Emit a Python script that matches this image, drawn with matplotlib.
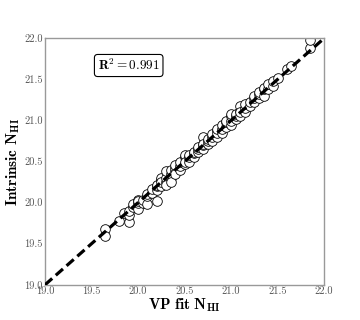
import numpy as np
import matplotlib
matplotlib.use('Agg')
import matplotlib.pyplot as plt

plt.rcParams['font.family'] = 'serif'
plt.rcParams['font.serif'] = ['cmr10']
plt.rcParams['mathtext.fontset'] = 'cm'
plt.rcParams['axes.formatter.use_mathtext'] = True

# (VP fit, intrinsic) pairs
vp_fit = [19.65, 19.65, 19.80, 19.85, 19.90, 19.90, 19.90, 19.95, 19.95,
          20.00, 20.00, 20.00, 20.00, 20.05, 20.05, 20.10, 20.10, 20.10,
          20.15, 20.15, 20.20, 20.20, 20.20, 20.20, 20.25, 20.25, 20.25, 20.25,
          20.30, 20.30, 20.30, 20.30, 20.35, 20.35, 20.35, 20.35,
          20.40, 20.40, 20.40, 20.40, 20.45, 20.45, 20.45,
          20.50, 20.50, 20.50, 20.50, 20.55, 20.55, 20.55,
          20.60, 20.60, 20.60, 20.65, 20.65, 20.65,
          20.70, 20.70, 20.70, 20.70, 20.75, 20.75, 20.75,
          20.80, 20.80, 20.80, 20.85, 20.85, 20.85, 20.85,
          20.90, 20.90, 20.90, 20.95, 20.95, 20.95,
          21.00, 21.00, 21.00, 21.00, 21.05, 21.05, 21.05,
          21.10, 21.10, 21.10, 21.10, 21.15, 21.15, 21.15,
          21.20, 21.20, 21.25, 21.25, 21.25, 21.30, 21.30, 21.30,
          21.35, 21.35, 21.35, 21.40, 21.40, 21.45, 21.45,
          21.50, 21.60, 21.65, 21.85, 21.85]
intrinsic = [19.68, 19.60, 19.78, 19.87, 19.77, 19.85, 19.90, 19.95, 19.98,
             19.92, 20.00, 20.03, 20.02, 20.00, 20.03, 19.98, 20.08, 20.10,
             20.12, 20.17, 20.02, 20.15, 20.20, 20.22, 20.20, 20.28, 20.30, 20.25,
             20.25, 20.30, 20.38, 20.22, 20.30, 20.35, 20.40, 20.25,
             20.38, 20.42, 20.46, 20.35, 20.40, 20.45, 20.50,
             20.47, 20.55, 20.58, 20.50, 20.50, 20.55, 20.58,
             20.55, 20.60, 20.62, 20.62, 20.65, 20.68,
             20.65, 20.70, 20.80, 20.72, 20.72, 20.75, 20.78,
             20.75, 20.80, 20.83, 20.80, 20.88, 20.85, 20.90,
             20.85, 20.90, 20.95, 20.92, 20.98, 21.00,
             20.95, 21.00, 21.05, 21.08, 21.02, 21.05, 21.08,
             21.05, 21.12, 21.18, 21.10, 21.10, 21.15, 21.20,
             21.18, 21.22, 21.22, 21.28, 21.30, 21.28, 21.32, 21.35,
             21.30, 21.38, 21.40, 21.38, 21.45, 21.42, 21.48,
             21.52, 21.63, 21.66, 21.88, 21.98]
r2_text = r'$\mathbf{R^2 = 0.991}$'
lims = [19.0, 22.0]

fig, ax = plt.subplots(figsize=(3.6, 3.2), dpi=100)
ax.scatter(vp_fit, intrinsic, s=48, facecolors='white', edgecolors='black',
           linewidths=0.6, zorder=2)
ax.plot(lims, lims, 'k--', lw=2.3, dashes=(3, 1.5), zorder=3)

ax.set_xlim(lims)
ax.set_ylim(lims)
ticks = np.arange(19.0, 22.01, 0.5)
ax.set_xticks(ticks)
ax.set_yticks(ticks)
ax.set_xticklabels(['%.1f' % t for t in ticks])
ax.set_yticklabels(['%.1f' % t for t in ticks])
ax.tick_params(length=0, pad=1.5, labelsize=7.5, labelcolor='#555555')
for sp in ax.spines.values():
    sp.set_color('#999999')
    sp.set_linewidth(1.0)

ax.set_xlabel(r'$\mathbf{VP\ fit\ N_{HI}}$', fontsize=11, labelpad=0)
ax.set_ylabel(r'$\mathbf{Intrinsic\ N_{HI}}$', fontsize=11, labelpad=2)

ax.text(0.30, 0.89, r2_text, transform=ax.transAxes, ha='center', va='center',
        fontsize=9.5, bbox=dict(boxstyle='round,pad=0.25', fc='white', ec='black', lw=0.8))

plt.savefig('out.png', dpi=100)
